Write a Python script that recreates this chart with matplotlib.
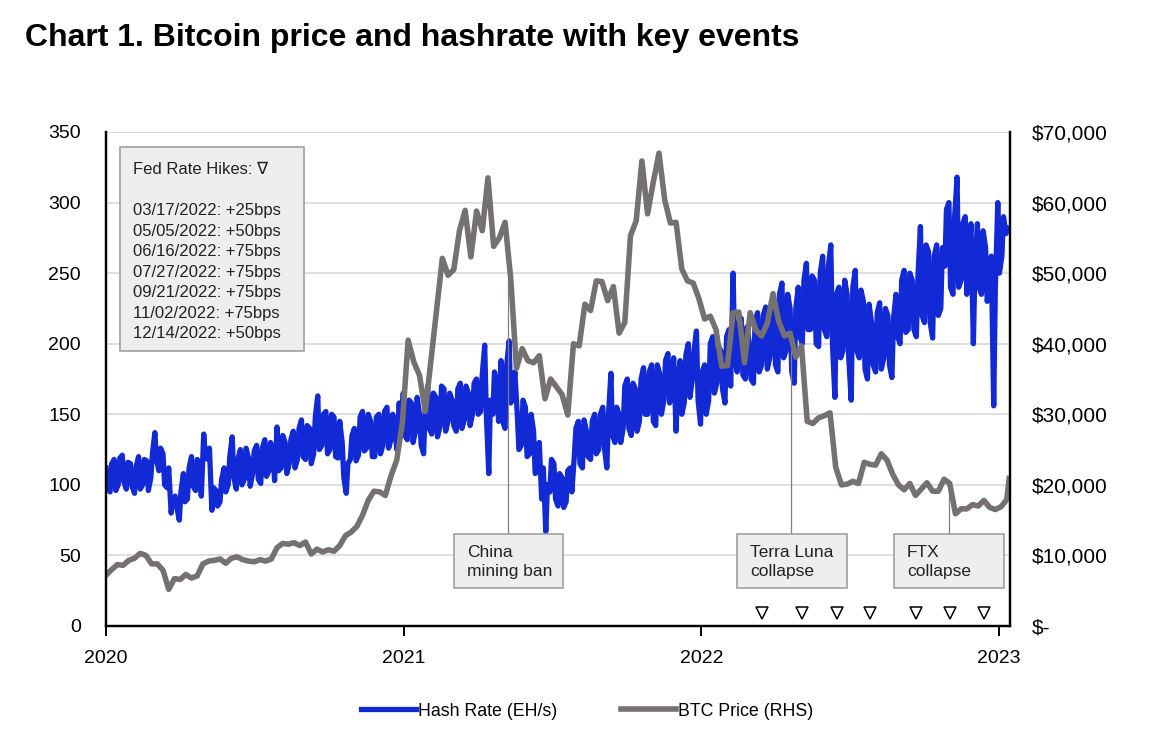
"""Bitcoin price and hashrate with key events (2020 - Jan 2023)"""

import matplotlib
matplotlib.use("Agg")
import matplotlib.pyplot as plt
import matplotlib.dates as mdates
from matplotlib.patches import Rectangle
import pandas as pd
import numpy as np

plt.rcParams['font.family'] = ['Liberation Sans', 'DejaVu Sans']

# ---- data ----
# hash rate (EH/s), one value every 5 days from 2020-01-01
hash_2020 = [112, 95, 118, 100, 121, 97,
             115, 94, 120, 100, 117, 105,
             137, 110, 122, 98, 80, 92,
             75, 108, 90, 120, 96, 115,
             136, 118, 82, 96, 88, 112,
             100, 134, 97, 125, 104, 119,
             108, 128, 101, 132, 110, 122,
             141, 112, 130, 115, 138, 118,
             146, 118, 140, 122, 163, 128,
             152, 125, 148, 119, 130, 94,
             118, 140, 121, 152, 126, 145,
             120, 150, 128, 155, 132, 140,
             158]
hash_2021 = [165, 132, 158, 138, 150, 122,
             170, 136, 162, 141, 168, 145,
             160, 138, 172, 146, 165, 150,
             175, 152, 199, 108, 150, 170,
             188, 140, 202, 165, 150, 128,
             155, 122, 138, 110, 90, 67,
             95, 115, 85, 105, 88, 112,
             120, 145, 112, 138, 118, 150,
             125, 155, 112, 179, 130, 150,
             140, 175, 135, 168, 145, 183,
             150, 185, 142, 178, 160, 193,
             170, 138, 188, 158, 200, 175,
             209]
hash_2022 = [143, 185, 160, 205, 172, 195,
             158, 210, 250, 180, 218, 175,
             200, 172, 222, 185, 226, 190,
             230, 180, 243, 195, 225, 172,
             240, 200, 257, 210, 245, 198,
             262, 205, 270, 162, 240, 195,
             235, 160, 252, 190, 230, 175,
             215, 180, 229, 190, 220, 176,
             235, 200, 252, 210, 245, 205,
             283, 215, 265, 204, 270, 225,
             255, 300, 235, 318, 245, 290,
             260, 200, 285, 235, 268, 240,
             156]
hash_2023 = [300, 262, 278]

# second reading, two days after each of the values above
hash_mid_2020 = [98, 115, 96, 119, 102, 116,
                 99, 113, 97, 118, 96, 122,
                 118, 126, 100, 112, 90, 84,
                 95, 88, 112, 99, 118, 92,
                 120, 126, 98, 85, 104, 95,
                 120, 105, 118, 100, 126, 99,
                 124, 104, 126, 106, 130, 103,
                 110, 135, 108, 132, 112, 140,
                 120, 142, 115, 148, 125, 150,
                 122, 150, 120, 145, 105, 115,
                 135, 117, 148, 124, 150, 120,
                 148, 122, 152, 126, 150, 125,
                 135]
hash_mid_2021 = [135, 160, 130, 162, 128, 155,
                 140, 165, 134, 170, 138, 165,
                 142, 168, 140, 170, 142, 172,
                 150, 178, 150, 160, 180, 145,
                 145, 185, 158, 180, 125, 160,
                 120, 150, 108, 130, 112, 100,
                 118, 90, 108, 84, 110, 95,
                 140, 115, 146, 120, 145, 122,
                 150, 126, 150, 135, 155, 130,
                 170, 140, 172, 138, 175, 150,
                 180, 145, 185, 150, 188, 158,
                 190, 175, 150, 192, 162, 195,
                 160]
hash_mid_2022 = [180, 150, 200, 165, 198, 168,
                 205, 170, 190, 215, 178, 212,
                 175, 215, 180, 220, 182, 222,
                 185, 235, 190, 235, 180, 225,
                 205, 245, 210, 248, 200, 250,
                 210, 255, 200, 235, 190, 245,
                 190, 240, 195, 238, 182, 228,
                 185, 222, 182, 225, 185, 218,
                 205, 245, 208, 250, 210, 248,
                 220, 270, 215, 262, 220, 268,
                 295, 240, 290, 240, 285, 235,
                 285, 255, 240, 280, 230, 262,
                 240]
hash_mid_2023 = [250, 290, 282]

hash_a = hash_2020 + hash_2021 + hash_2022 + hash_2023
hash_b = hash_mid_2020 + hash_mid_2021 + hash_mid_2022 + hash_mid_2023
dates_a = pd.date_range("2020-01-01", periods=len(hash_a), freq="5D")
dates_b = dates_a + pd.Timedelta(days=2)
hash_dates = np.column_stack([dates_a.values, dates_b.values]).ravel()
hash_rate = np.column_stack([hash_a, hash_b]).ravel()

# BTC price (USD, thousands), weekly from 2020-01-01
price_2020 = [7.2, 8.0, 8.7, 8.6, 9.3, 9.6, 10.3, 10.0, 8.8, 8.8, 7.9, 5.2,
              6.7, 6.6, 7.3, 6.8, 7.1, 8.8, 9.2, 9.3, 9.5, 8.9, 9.6, 9.8,
              9.4, 9.2, 9.1, 9.4, 9.2, 9.5, 11.1, 11.7, 11.6, 11.8, 11.4, 11.9,
              10.2, 10.9, 10.5, 10.8, 10.6, 11.4, 12.8, 13.3, 14.1, 15.7, 17.8,
              19.1, 19.0, 18.5, 21.3, 23.5, 28.9]
price_2021 = [40.5, 37.4, 35.5, 30.4, 37.6, 44.8, 52.1, 49.7, 50.5, 56.0,
              58.9, 52.3, 58.8, 56.0, 63.5, 53.8, 55.0, 57.2, 49.2, 36.5,
              39.3, 37.6, 37.3, 38.3, 32.2, 35.0, 33.9, 32.8, 29.9, 40.0,
              39.7, 45.6, 44.7, 48.9, 48.8, 46.1, 48.1, 41.5, 43.0, 55.3,
              57.4, 65.9, 58.4, 62.9, 67.0, 60.4, 57.1, 57.2, 50.6, 48.9,
              48.6, 46.4]
price_2022 = [43.5, 43.9, 42.0, 36.8, 36.9, 44.4, 44.5, 37.3, 44.4, 41.9,
              41.1, 42.9, 47.1, 43.2, 41.1, 41.5, 38.1, 39.7, 29.0, 28.7,
              29.5, 29.8, 30.2, 22.5, 20.0, 20.1, 20.5, 20.2, 23.2, 22.9,
              22.8, 24.4, 23.5, 21.5, 20.0, 19.3, 20.2, 18.5, 19.4, 20.3,
              19.1, 19.1, 20.8, 20.2, 15.9, 16.6, 16.6, 17.2, 17.0, 17.8,
              16.8, 16.5]
price_2023 = [16.9, 17.9]
btc_price = np.array(price_2020 + price_2021 + price_2022 + price_2023) * 1000
price_dates = pd.date_range("2020-01-01", periods=len(btc_price), freq="7D")
# last spike in January 2023
price_dates = price_dates.append(pd.DatetimeIndex(["2023-01-14"]))
btc_price = np.append(btc_price, 20900)

# Fed rate hikes
fed_dates = pd.to_datetime(["2022-03-17", "2022-05-05", "2022-06-16",
                            "2022-07-27", "2022-09-21", "2022-11-02",
                            "2022-12-14"])
fed_moves = ["+25bps", "+50bps", "+75bps", "+75bps", "+75bps", "+75bps",
             "+50bps"]

# key events: label, date the leader touches, price at that point
event_labels = ["China\nmining ban", "Terra Luna\ncollapse", "FTX\ncollapse"]
event_dates = pd.to_datetime(["2021-05-08", "2022-04-21", "2022-11-01"])
event_prices = [49000, 39000, 20600]

BLUE = "#1229d6"
GREY = "#767171"

# ---- figure ----
W, H = 1164, 750
fig = plt.figure(figsize=(W / 100, H / 100), dpi=100)


def fx(px):
    return px / W


def fy(py):
    return 1 - py / H


ax = fig.add_axes([fx(106), fy(626), fx(1010 - 106), (626 - 132) / H])
ax2 = ax.twinx()

ax.plot(hash_dates, hash_rate, color=BLUE, lw=3.8, solid_joinstyle='round',
        label="Hash Rate (EH/s)")
ax2.plot(price_dates, btc_price, color=GREY, lw=4.0, solid_joinstyle='round',
         label="BTC Price (RHS)")

ax.set_xlim(pd.Timestamp("2020-01-01"), pd.Timestamp("2023-01-15"))
ax.set_ylim(0, 350)
ax2.set_ylim(0, 70000)
ax.set_yticks(np.arange(0, 351, 50))
ax2.set_yticks(np.arange(0, 70001, 10000))
ax2.set_yticklabels(["$-"] + ["${:,}".format(v) for v in range(10000, 70001, 10000)])

ax.xaxis.set_major_locator(mdates.YearLocator())
ax.xaxis.set_major_formatter(mdates.DateFormatter("%Y"))

ax.grid(axis='y', color="#d9d9d9", lw=1.2)
ax.set_axisbelow(True)
for a in (ax, ax2):
    a.spines['top'].set_visible(False)
    for s in ('left', 'right', 'bottom'):
        a.spines[s].set_linewidth(1.6)
ax.tick_params(axis='y', length=0, pad=18, labelsize=14)
ax2.tick_params(axis='y', length=0, pad=16, labelsize=15)
ax.tick_params(axis='x', length=7, width=1.4, pad=10, labelsize=14)

# fed hike markers along the bottom
ax.plot(fed_dates, [9] * len(fed_dates), ls='none', marker='v', ms=8,
        mfc='white', mec='black', mew=1.1, zorder=5)

# event leader lines
box_top_price = (626 - 534) / 494 * 70000
for d, p in zip(event_dates, event_prices):
    ax2.plot([d, d], [box_top_price, p], color="#808080", lw=0.9, zorder=1)


def grey_box(x0, y0, x1, y1):
    fig.patches.append(Rectangle((fx(x0), fy(y1)), fx(x1 - x0), (y1 - y0) / H,
                                 transform=fig.transFigure, facecolor="#eeeeee",
                                 edgecolor="#a0a0a0", lw=1.2, zorder=10))


# fed box
grey_box(120, 147, 304, 351)
fed_text = "Fed Rate Hikes: \u2207\n\n" + "\n".join(
    "{}: {}".format(d.strftime("%m/%d/%Y"), m) for d, m in zip(fed_dates, fed_moves))
fig.text(fx(133), fy(162), fed_text, fontsize=12, va='top', ha='left',
         linespacing=1.46, color="#222222", zorder=11)

# event boxes
box_x = [(454, 563), (737, 847), (894, 1004)]
for (x0, x1), lab in zip(box_x, event_labels):
    grey_box(x0, 534, x1, 588)
    fig.text(fx(x0 + 13), fy(562), lab, fontsize=12.5, va='center', ha='left',
             linespacing=1.4, color="#222222", zorder=11)

# title
fig.text(fx(25), fy(38), "Chart 1. Bitcoin price and hashrate with key events",
         fontsize=23, fontweight='bold', va='center', ha='left')

# legend
h1, l1 = ax.get_legend_handles_labels()
h2, l2 = ax2.get_legend_handles_labels()
fig.legend(h1 + h2, l1 + l2, loc='center', bbox_to_anchor=(fx(587), fy(711)),
           ncol=2, frameon=False, fontsize=12.8, handlelength=3.1,
           handletextpad=0.1, columnspacing=3.6)

fig.savefig("out.png", dpi=100)
